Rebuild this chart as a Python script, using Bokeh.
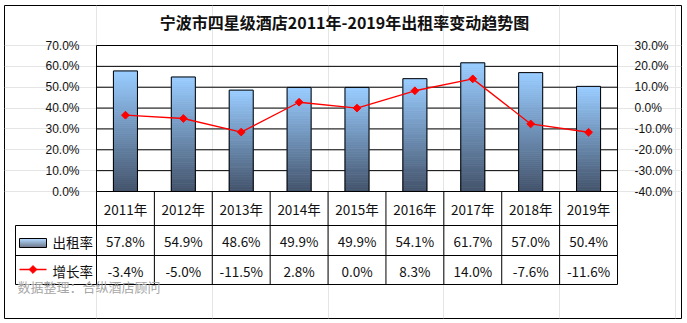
import numpy as np
from bokeh.plotting import figure
from bokeh.models import Range1d, LinearAxis, FixedTicker, PrintfTickFormatter
from bokeh.core.properties import value
from bokeh.embed import file_html
from bokeh.resources import INLINE

# ---------------- data ----------------
title_text = "宁波市四星级酒店2011年-2019年出租率变动趋势图"
years = ["2011年", "2012年", "2013年", "2014年", "2015年", "2016年", "2017年", "2018年", "2019年"]
occupancy = [57.8, 54.9, 48.6, 49.9, 49.9, 54.1, 61.7, 57.0, 50.4]
growth = [-3.4, -5.0, -11.5, 2.8, 0.0, 8.3, 14.0, -7.6, -11.6]
left_ticks = [0, 10, 20, 30, 40, 50, 60, 70]
right_ticks = [-40, -30, -20, -10, 0, 10, 20, 30]
series_names = ["出租率", "增长率"]
source_note = "数据整理：合纵酒店顾问"

# ---------------- layout (pixels) ----------------
W, H = 687, 323
BOX_L, BOX_R, BOX_T, BOX_B = 4, 681, 5, 318          # outer border = frame
PL, PR, PT, PB = 96, 617, 45, 191                     # plot area
ROWS = [191, 225, 255, 284]                           # table row lines
TAB_L = 15
CJK = "Noto Sans CJK SC"
AXF = "Liberation Sans"
LIGHT = np.array([0x99, 0xCC, 0xFF])
DARK = np.array([0x44, 0x54, 0x6C])
RED = "#FF0000"
BAR_W = 0.415
N_SL = 60

n = len(years)
col_w = (PR - PL) / n
upp = (left_ticks[-1] - left_ticks[0]) / (PB - PT)     # value units per pixel


def grad(t):
    c = DARK + (LIGHT - DARK) * t
    return "#%02x%02x%02x" % tuple(int(round(v)) for v in c)


def px2x(px):
    return (px - PL) / col_w


x_range = Range1d(px2x(BOX_L), px2x(BOX_R))
y_range = Range1d(left_ticks[0] - (BOX_B - PB) * upp, left_ticks[-1] + (PT - BOX_T) * upp)
r_range = Range1d(right_ticks[0] - (BOX_B - PB) * upp, right_ticks[-1] + (PT - BOX_T) * upp)

p = figure(width=W, height=H, x_range=x_range, y_range=y_range,
           output_backend="svg", toolbar_location=None,
           x_axis_location=None, y_axis_location=None,
           min_border_left=BOX_L, min_border_right=W - BOX_R,
           min_border_top=BOX_T, min_border_bottom=H - BOX_B,
           background_fill_color="white", border_fill_color="white",
           outline_line_color="black", outline_line_width=1)
p.extra_y_ranges = {"right": r_range, "px": Range1d(BOX_B, BOX_T)}
p.extra_x_ranges = {"px": Range1d(BOX_L, BOX_R)}

# axes at the plot-area edges
laxis = LinearAxis(ticker=FixedTicker(ticks=left_ticks),
                   formatter=PrintfTickFormatter(format="%.1f%%"),
                   fixed_location=0, bounds=(left_ticks[0], left_ticks[-1]))
raxis = LinearAxis(y_range_name="right", ticker=FixedTicker(ticks=right_ticks),
                   formatter=PrintfTickFormatter(format="%.1f%%"),
                   fixed_location=n, bounds=(right_ticks[0], right_ticks[-1]))
p.add_layout(laxis, "left")
p.add_layout(raxis, "right")
for ax in [laxis, raxis]:
    ax.axis_line_color = "black"
    ax.major_tick_line_color = None
    ax.minor_tick_line_color = None
    ax.major_label_text_font = AXF
    ax.major_label_text_font_size = "12px"
    ax.major_label_text_color = "#111111"
    ax.major_label_standoff = 11

# horizontal grid lines
p.segment(x0=0, x1=n, y0=left_ticks, y1=left_ticks, line_color="black", line_width=1)

# gradient bars (slices)
xc = np.arange(n) + 0.5
sx, sb, st, sc = [], [], [], []
for x, v in zip(xc, occupancy):
    for k in range(N_SL):
        sx.append(x)
        sb.append(v * k / N_SL)
        st.append(v * (k + 1) / N_SL)
        sc.append(grad(k / (N_SL - 1)))
p.vbar(x=sx, bottom=sb, top=st, width=BAR_W, fill_color=sc, line_color=sc, line_width=0.8)
p.vbar(x=xc, top=occupancy, width=BAR_W, fill_color=None, line_color="black", line_width=1)

# growth line
p.line(xc, growth, y_range_name="right", line_color=RED, line_width=1.3)
p.scatter(xc, growth, y_range_name="right", marker="square", angle=np.pi / 4,
          size=5.5, color=RED)

# ---------------- table ----------------
vx = np.arange(n + 1)
p.segment(x0=vx, x1=vx, y0=ROWS[0], y1=ROWS[-1], y_range_name="px",
          line_color="black", line_width=1)
tl = px2x(TAB_L)
p.segment(x0=[tl], x1=[tl], y0=[ROWS[1]], y1=[ROWS[-1]], y_range_name="px",
          line_color="black", line_width=1)
p.segment(x0=[0] + [tl] * 3, x1=[n] * 4, y0=ROWS, y1=ROWS, y_range_name="px",
          line_color="black", line_width=1)

occ_txt = ["%.1f%%" % v for v in occupancy]
gr_txt = ["%.1f%%" % v for v in growth]
for texts, yc in [(years, 208), (occ_txt, 240.5), (gr_txt, 270)]:
    p.text(x=xc, y=[yc] * n, text=texts, y_range_name="px",
           text_align="center", text_baseline="middle",
           text_font=value(CJK), text_font_size="13.5px", text_color="#111111")

# legend cell: bar swatch
sw_t, sw_b = 238, 247
k9 = np.arange(sw_b - sw_t)
p.quad(left=19, right=46, top=sw_t + k9, bottom=sw_t + k9 + 1,
       fill_color=[grad(1 - k / (len(k9) - 1)) for k in k9], line_color=None,
       x_range_name="px", y_range_name="px")
p.quad(left=[19], right=[46], top=[sw_t], bottom=[sw_b], fill_color=None,
       line_color="black", line_width=1, x_range_name="px", y_range_name="px")
# legend cell: line + diamond
p.line([19, 46], [269, 269], line_color=RED, line_width=1.3,
       x_range_name="px", y_range_name="px")
p.scatter([32.5], [269], marker="square", angle=np.pi / 4, size=5.5, color=RED,
          x_range_name="px", y_range_name="px")
p.text(x=[52, 52], y=[241, 270], text=series_names, x_range_name="px", y_range_name="px",
       text_align="left", text_baseline="middle", text_font=value(CJK),
       text_font_size="13.5px", text_color="#111111")

# watermark
p.text(x=[17], y=[286], text=[source_note], x_range_name="px", y_range_name="px",
       text_align="left", text_baseline="middle", text_font=value(CJK),
       text_font_size="13px", text_color="#A6A6A6")

# title
p.text(x=[(BOX_L + BOX_R) / 2 + 1.5], y=[21], text=[title_text], x_range_name="px",
       y_range_name="px", text_align="center", text_baseline="middle",
       text_font=value(CJK), text_font_size="16px", text_font_style="bold",
       text_color="#111111")

open("out.html", "w").write(file_html(p, INLINE))
